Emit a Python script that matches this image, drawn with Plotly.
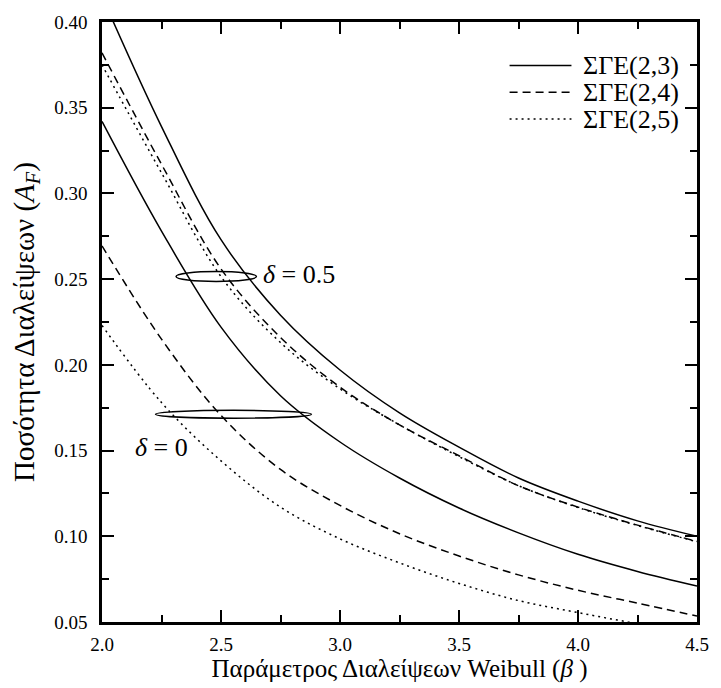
import plotly.graph_objects as go

# ---- data ----
beta = [2.0, 2.25, 2.5, 2.75, 3.0, 3.25, 3.5, 3.75, 4.0, 4.25, 4.5]

# delta = 0.5
sge23_d05 = [0.415, 0.339, 0.273, 0.229, 0.197, 0.172, 0.152, 0.134, 0.1205, 0.109, 0.100]
sge24_d05 = [0.382, 0.317, 0.256, 0.216, 0.187, 0.165, 0.147, 0.1295, 0.117, 0.1065, 0.097]
sge25_d05 = [0.375, 0.312, 0.2515, 0.213, 0.186, 0.165, 0.1465, 0.1295, 0.1168, 0.1063, 0.0968]

# delta = 0
sge23_d0 = [0.342, 0.278, 0.222, 0.182, 0.155, 0.134, 0.1165, 0.102, 0.0895, 0.0795, 0.071]
sge24_d0 = [0.2694, 0.215, 0.1705, 0.139, 0.118, 0.1015, 0.0885, 0.0775, 0.0685, 0.061, 0.0535]
sge25_d0 = [0.223, 0.178, 0.144, 0.117, 0.0985, 0.0845, 0.0725, 0.0625, 0.0555, 0.049, 0.043]

names = ["ΣΓΕ(2,3)", "ΣΓΕ(2,4)", "ΣΓΕ(2,5)"]
dashes = ["solid", "8px,5px", "2px,4px"]

FONT = "Liberation Serif, 'Times New Roman', 'DejaVu Serif', serif"

fig = go.Figure()
groups = [(sge23_d05, sge23_d0), (sge24_d05, sge24_d0), (sge25_d05, sge25_d0)]
for name, dash, (up, low) in zip(names, dashes, groups):
    for ys in (up, low):
        fig.add_trace(go.Scatter(
            x=beta, y=ys, mode="lines", name=name, showlegend=False,
            line=dict(color="black", width=1.5, dash=dash, shape="spline", smoothing=1.0),
            cliponaxis=True,
        ))

# ---- manual legend (paper coordinates) ----
leg_y = [0.9274, 0.8828, 0.8383]
shapes = []
annotations = []
for name, dash, yy in zip(names, dashes, leg_y):
    shapes.append(dict(type="line", xref="paper", yref="paper", x0=0.685, x1=0.789,
                       y0=yy, y1=yy, line=dict(color="black", width=1.5, dash=dash)))
    annotations.append(dict(xref="paper", yref="paper", x=0.805, y=yy, text=name,
                            showarrow=False, xanchor="left", yanchor="middle",
                            font=dict(family=FONT, size=26, color="black")))

# ellipses marking the curve families
shapes.append(dict(type="circle", xref="x", yref="y", x0=2.311, x1=2.649, y0=0.2486, y1=0.2544,
                   line=dict(color="black", width=1.5)))
shapes.append(dict(type="circle", xref="x", yref="y", x0=2.225, x1=2.880, y0=0.1689, y1=0.1735,
                   line=dict(color="black", width=1.5)))

annotations.append(dict(xref="x", yref="y", x=2.67, y=0.2527, text="<i>δ</i> = 0.5",
                        showarrow=False, xanchor="left", yanchor="middle",
                        font=dict(family=FONT, size=26, color="black")))
annotations.append(dict(xref="x", yref="y", x=2.13, y=0.152, text="<i>δ</i> = 0",
                        showarrow=False, xanchor="left", yanchor="middle",
                        font=dict(family=FONT, size=26, color="black")))

axis_common = dict(
    showgrid=False, zeroline=False, showline=True, linecolor="black", linewidth=2.5,
    mirror="ticks", ticks="inside", ticklen=12, tickwidth=2, tickcolor="black",
    tickfont=dict(family=FONT, size=19, color="black"),
)

fig.update_layout(
    width=721, height=688,
    margin=dict(l=101.5, r=13, t=17, b=65),
    paper_bgcolor="white", plot_bgcolor="white",
    shapes=shapes, annotations=annotations,
    xaxis=dict(range=[2.0, 4.5], tickmode="array",
               tickvals=[2.0, 2.5, 3.0, 3.5, 4.0, 4.5],
               ticktext=["2.0", "2.5", "3.0", "3.5", "4.0", "4.5"],
               minor=dict(tickmode="array", tickvals=[2.25, 2.75, 3.25, 3.75, 4.25],
                          ticks="inside", ticklen=7, tickwidth=2, tickcolor="black"),
               title=dict(text="Παράμετρος Διαλείψεων Weibull (<i>β</i> )",
                          font=dict(family=FONT, size=25, color="black"), standoff=4),
               ticklabelstandoff=3,
               **axis_common),
    yaxis=dict(range=[0.05, 0.40], tickmode="array",
               tickvals=[0.05, 0.10, 0.15, 0.20, 0.25, 0.30, 0.35, 0.40],
               ticktext=["0.05", "0.10", "0.15", "0.20", "0.25", "0.30", "0.35", "0.40"],
               minor=dict(tickmode="array",
                          tickvals=[0.075, 0.125, 0.175, 0.225, 0.275, 0.325, 0.375],
                          ticks="inside", ticklen=7, tickwidth=2, tickcolor="black"),
               title=dict(text="Ποσότητα Διαλείψεων (<i>A</i><sub><i>F</i></sub>)",
                          font=dict(family=FONT, size=29, color="black"), standoff=12),
               ticklabelstandoff=8,
               **axis_common),
)

fig.write_html("out.html")
